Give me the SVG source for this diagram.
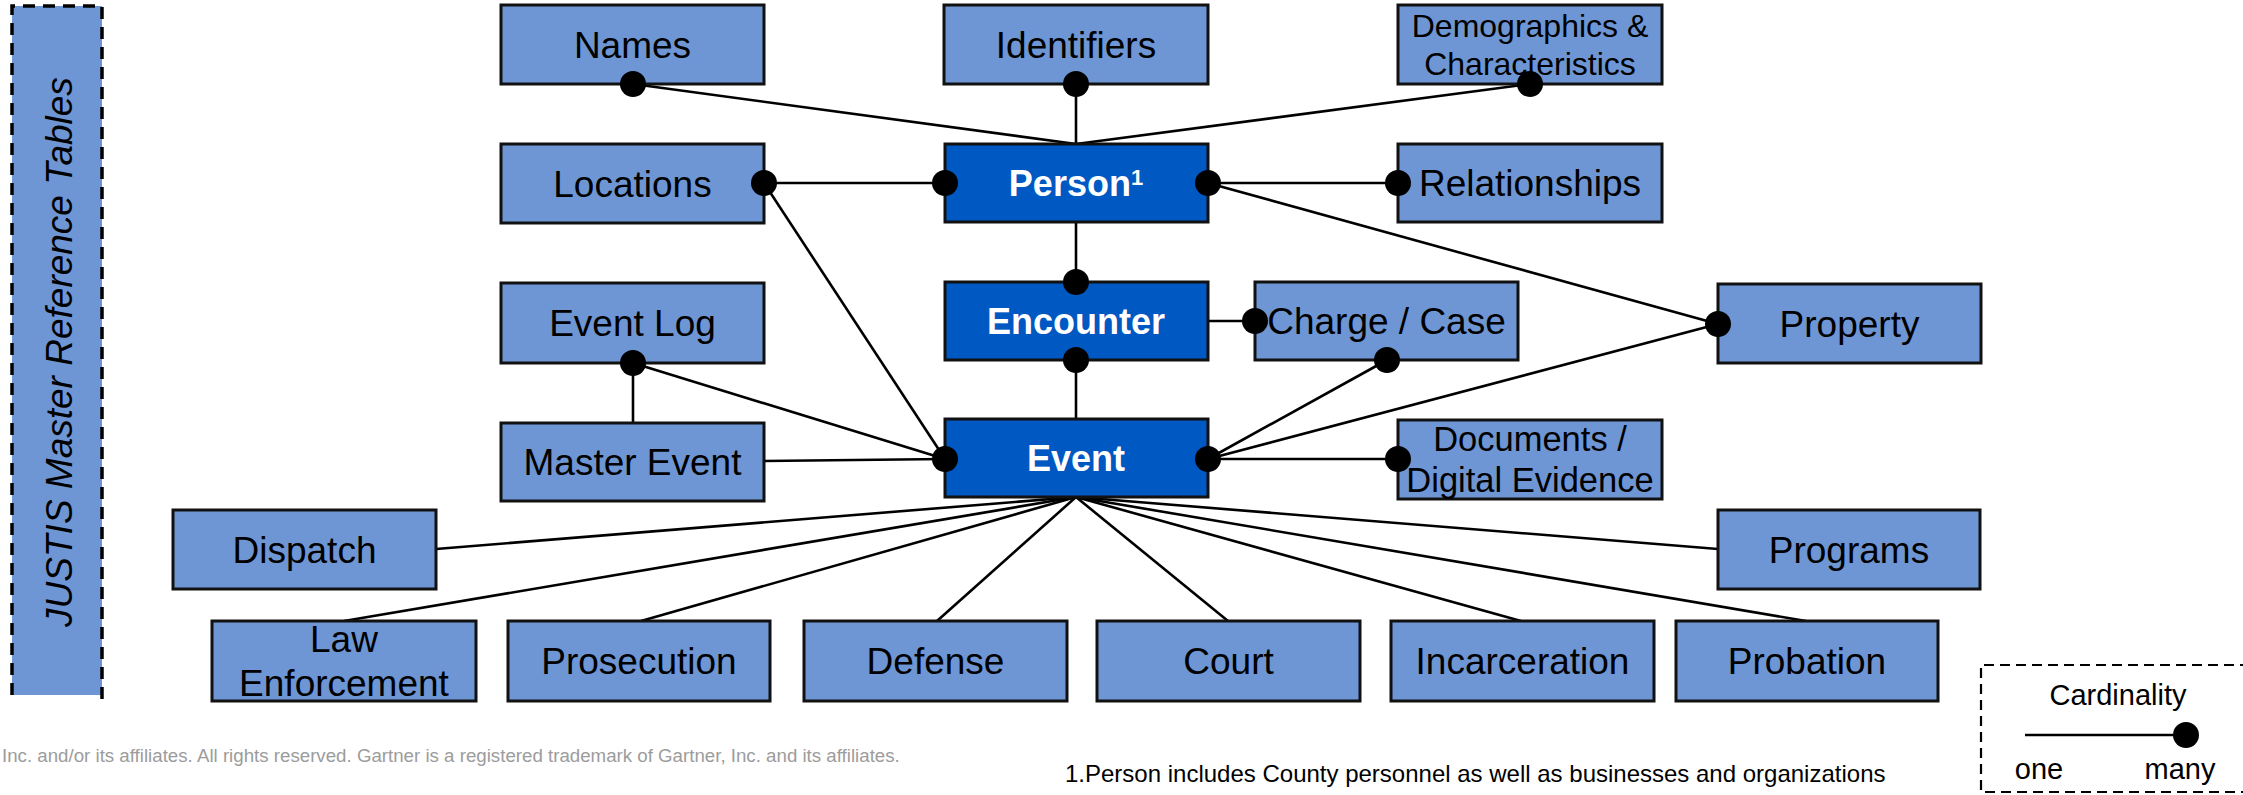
<svg xmlns="http://www.w3.org/2000/svg" width="2243" height="795" viewBox="0 0 2243 795">
<style>
.n rect{fill:#6E96D4;stroke:#111;stroke-width:3}
.d rect{fill:#0058C2;stroke:#111;stroke-width:3}
.n text{font-family:"Liberation Sans",Arial,sans-serif;font-size:37px;fill:#000;text-anchor:middle}
.n text.s32{font-size:32px}
.n text.s34{font-size:34.5px}
.d text{font-family:"Liberation Sans",Arial,sans-serif;font-size:36px;font-weight:bold;fill:#fff;text-anchor:middle}
.d tspan.sup{font-size:22px}
.c line{stroke:#000;stroke-width:2.6}
.dot{fill:#000}
.t{font-family:"Liberation Sans",Arial,sans-serif}
</style>
<rect width="2243" height="795" fill="#fff"/>

<g id="master-ref">
<rect x="12" y="6" width="90" height="689" fill="#6E96D4"/>
<path d="M12,695 V6 H102 V703" fill="none" stroke="#000" stroke-width="3.5" stroke-dasharray="12 8"/>
<text class="t" transform="translate(72,352) rotate(-90)" text-anchor="middle" font-size="37" font-style="italic" fill="#000">JUSTIS Master Reference Tables</text>
</g>

<g id="connectors" class="c">
<line x1="633" y1="84" x2="1076" y2="144"/>
<line x1="1076" y1="84" x2="1076" y2="144"/>
<line x1="1530" y1="84" x2="1076" y2="144"/>
<line x1="764" y1="183" x2="945" y2="183"/>
<line x1="1208" y1="183" x2="1398" y2="183"/>
<line x1="1208" y1="183" x2="1718" y2="324"/>
<line x1="1076" y1="222" x2="1076" y2="282"/>
<line x1="1076" y1="360" x2="1076" y2="419"/>
<line x1="1208" y1="321" x2="1255" y2="321"/>
<line x1="764" y1="183" x2="945" y2="459"/>
<line x1="633" y1="363" x2="945" y2="459"/>
<line x1="633" y1="363" x2="633" y2="423"/>
<line x1="764" y1="461" x2="945" y2="459"/>
<line x1="1208" y1="459" x2="1387" y2="360"/>
<line x1="1208" y1="459" x2="1718" y2="324"/>
<line x1="1208" y1="459" x2="1398" y2="459"/>
<line x1="1076" y1="497" x2="436" y2="549"/>
<line x1="1076" y1="497" x2="344" y2="621"/>
<line x1="1076" y1="497" x2="641" y2="621"/>
<line x1="1076" y1="497" x2="937" y2="621"/>
<line x1="1076" y1="497" x2="1228" y2="621"/>
<line x1="1076" y1="497" x2="1521" y2="621"/>
<line x1="1076" y1="497" x2="1806" y2="621"/>
<line x1="1076" y1="497" x2="1718" y2="549"/>
</g>

<g id="names" class="n"><rect x="501" y="5" width="263" height="79"/><text x="632.5" y="58">Names</text></g>
<g id="identifiers" class="n"><rect x="944" y="5" width="264" height="79"/><text x="1076" y="58">Identifiers</text></g>
<g id="demographics" class="n"><rect x="1398" y="5" width="264" height="79"/><text class="s32" x="1530" y="37">Demographics &amp;</text><text class="s32" x="1530" y="75">Characteristics</text></g>
<g id="locations" class="n"><rect x="501" y="144" width="263" height="79"/><text x="632.5" y="197">Locations</text></g>
<g id="person" class="d"><rect x="945" y="144" width="263" height="78"/><text x="1076" y="196">Person<tspan class="sup" dy="-11">1</tspan></text></g>
<g id="relationships" class="n"><rect x="1398" y="144" width="264" height="78"/><text x="1530" y="196">Relationships</text></g>
<g id="event-log" class="n"><rect x="501" y="283" width="263" height="80"/><text x="632.5" y="336">Event Log</text></g>
<g id="encounter" class="d"><rect x="945" y="282" width="263" height="78"/><text x="1076" y="334">Encounter</text></g>
<g id="charge-case" class="n"><rect x="1255" y="282" width="263" height="78"/><text x="1386.5" y="334">Charge / Case</text></g>
<g id="property" class="n"><rect x="1718" y="284" width="263" height="79"/><text x="1849.5" y="337">Property</text></g>
<g id="master-event" class="n"><rect x="501" y="423" width="263" height="78"/><text x="632.5" y="475">Master Event</text></g>
<g id="event" class="d"><rect x="945" y="419" width="263" height="78"/><text x="1076" y="471">Event</text></g>
<g id="documents" class="n"><rect x="1398" y="420" width="264" height="79"/><text class="s34" x="1530" y="451">Documents /</text><text class="s34" x="1530" y="492">Digital Evidence</text></g>
<g id="dispatch" class="n"><rect x="173" y="510" width="263" height="79"/><text x="304.5" y="563">Dispatch</text></g>
<g id="programs" class="n"><rect x="1718" y="510" width="262" height="79"/><text x="1849" y="563">Programs</text></g>
<g id="law-enforcement" class="n"><rect x="212" y="621" width="264" height="80"/><text x="344" y="652">Law</text><text x="344" y="696">Enforcement</text></g>
<g id="prosecution" class="n"><rect x="508" y="621" width="262" height="80"/><text x="639" y="674">Prosecution</text></g>
<g id="defense" class="n"><rect x="804" y="621" width="263" height="80"/><text x="935.5" y="674">Defense</text></g>
<g id="court" class="n"><rect x="1097" y="621" width="263" height="80"/><text x="1228.5" y="674">Court</text></g>
<g id="incarceration" class="n"><rect x="1391" y="621" width="263" height="80"/><text x="1522.5" y="674">Incarceration</text></g>
<g id="probation" class="n"><rect x="1676" y="621" width="262" height="80"/><text x="1807" y="674">Probation</text></g>

<g id="dots" class="dot">
<circle cx="633" cy="84" r="13"/>
<circle cx="1076" cy="84" r="13"/>
<circle cx="1530" cy="84" r="13"/>
<circle cx="764" cy="183" r="13"/>
<circle cx="945" cy="183" r="13"/>
<circle cx="1208" cy="183" r="13"/>
<circle cx="1398" cy="183" r="13"/>
<circle cx="1076" cy="282" r="13"/>
<circle cx="1076" cy="360" r="13"/>
<circle cx="1255" cy="321" r="13"/>
<circle cx="1387" cy="360" r="13"/>
<circle cx="1718" cy="324" r="13"/>
<circle cx="633" cy="363" r="13"/>
<circle cx="945" cy="459" r="13"/>
<circle cx="1208" cy="459" r="13"/>
<circle cx="1398" cy="459" r="13"/>
</g>

<g id="legend">
<path d="M2250,665 H1981 V792 H2250" fill="none" stroke="#000" stroke-width="2.2" stroke-dasharray="10 6"/>
<text class="t" x="2118" y="705" font-size="29" text-anchor="middle">Cardinality</text>
<line x1="2025" y1="735" x2="2186" y2="735" stroke="#000" stroke-width="2.6"/>
<circle cx="2186" cy="735" r="13" fill="#000"/>
<text class="t" x="2039" y="779" font-size="29" text-anchor="middle">one</text>
<text class="t" x="2180" y="779" font-size="29" text-anchor="middle">many</text>
</g>

<text class="t" x="2" y="762" font-size="18.7" fill="#9c9c9c">Inc. and/or its affiliates. All rights reserved. Gartner is a registered trademark of Gartner, Inc. and its affiliates.</text>
<text class="t" x="1065" y="782" font-size="24" fill="#000">1.Person includes County personnel as well as businesses and organizations</text>
</svg>
